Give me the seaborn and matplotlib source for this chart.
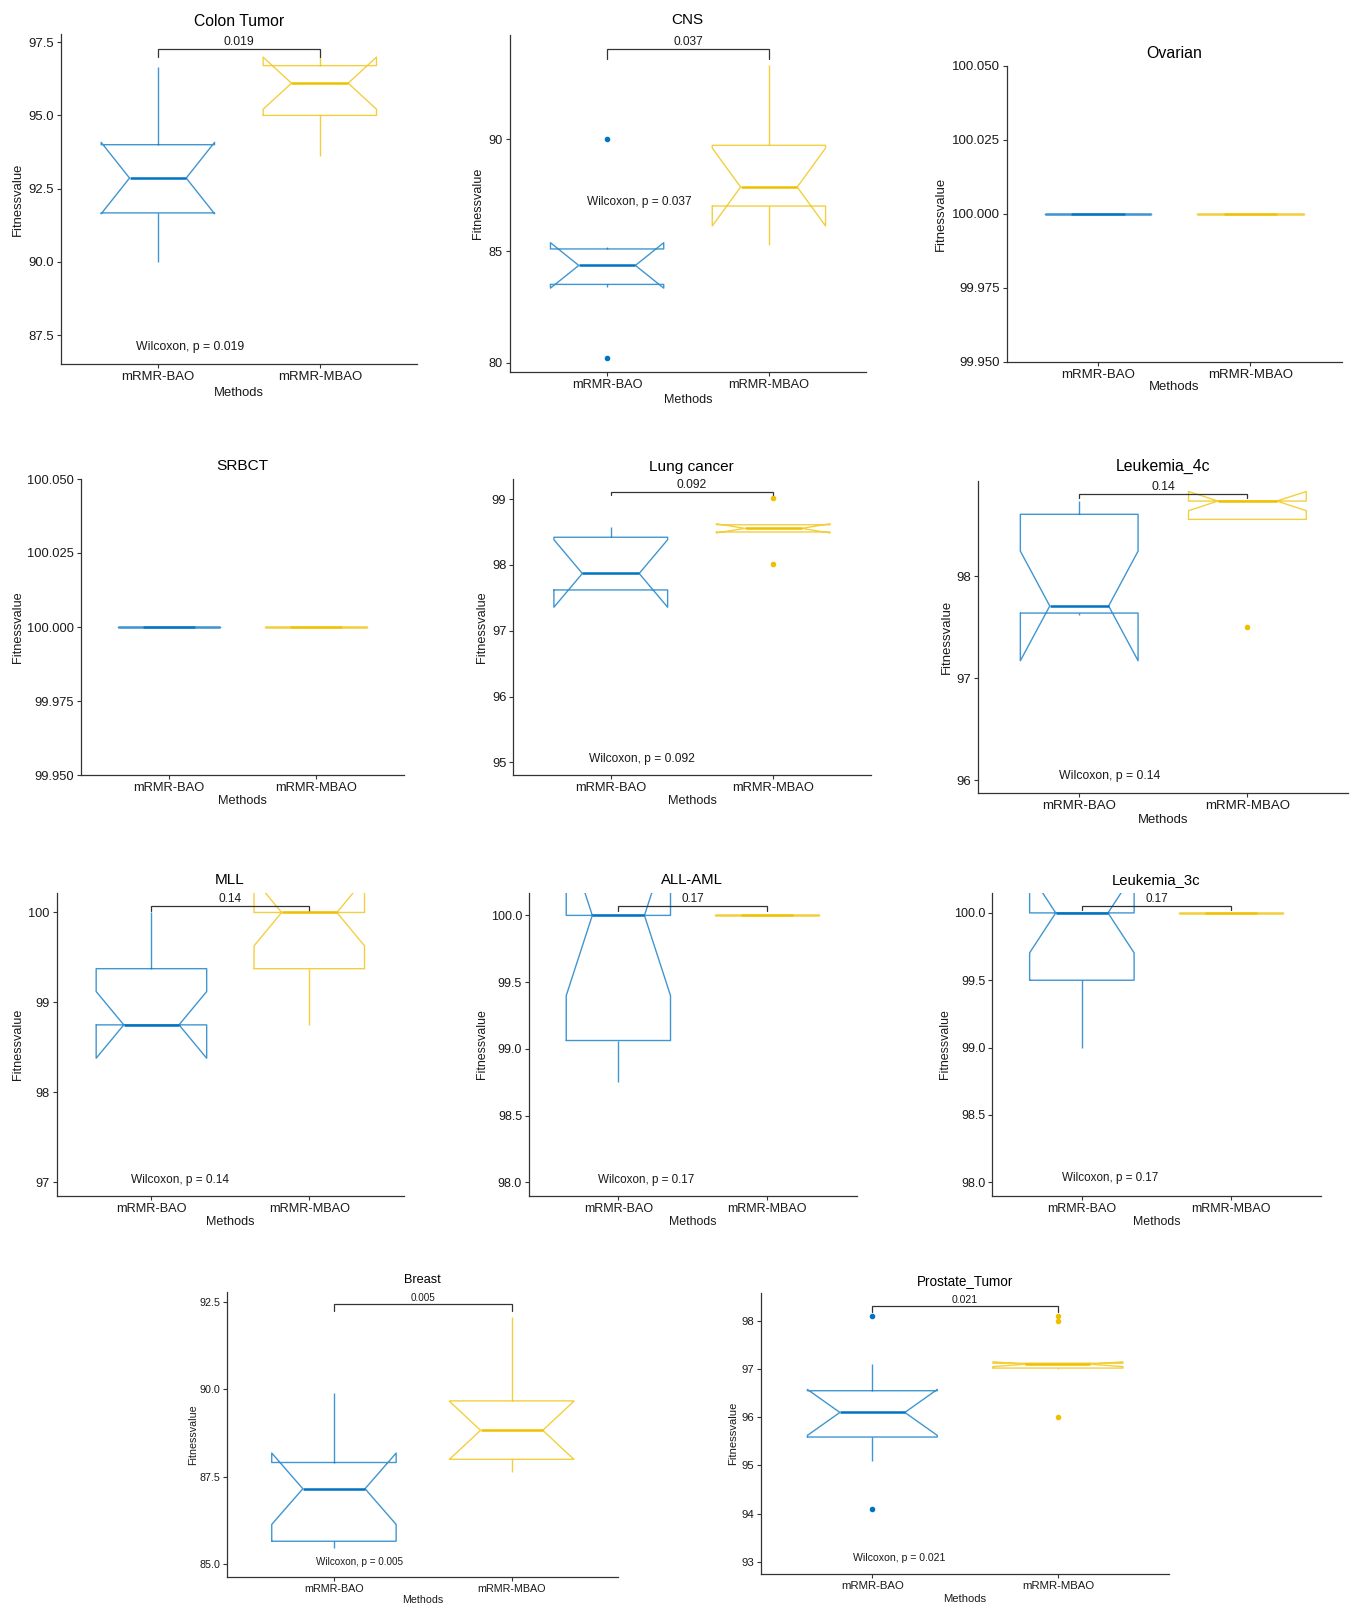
import matplotlib
matplotlib.use("Agg")
import matplotlib.pyplot as plt
import pandas as pd
import seaborn as sns

METHODS = ["mRMR-BAO", "mRMR-MBAO"]
PALETTE = {"mRMR-BAO": "#0073C2", "mRMR-MBAO": "#EFC000"}

# ---- fitness values of each run, per dataset and method ----
colon_bao = [90.0, 91.0, 91.67, 92.2, 92.86, 93.5, 94.0, 95.0, 96.67]
colon_mbao = [93.6, 94.5, 95.0, 95.5, 96.1, 96.4, 96.7, 96.9, 97.0]

cns_bao = [80.2, 83.4, 83.84, 84.88, 85.17, 90.0]
cns_mbao = [85.26, 87.02, 87.02, 88.72, 90.08, 93.33]

ovarian_bao = [100.0, 100.0, 100.0, 100.0, 100.0, 100.0, 100.0, 100.0, 100.0, 100.0]
ovarian_mbao = [100.0, 100.0, 100.0, 100.0, 100.0, 100.0, 100.0, 100.0, 100.0, 100.0]

srbct_bao = [100.0, 100.0, 100.0, 100.0, 100.0, 100.0, 100.0, 100.0, 100.0, 100.0]
srbct_mbao = [100.0, 100.0, 100.0, 100.0, 100.0, 100.0, 100.0, 100.0, 100.0, 100.0]

lung_bao = [97.62, 97.62, 97.62, 98.12, 98.52, 98.57]
lung_mbao = [98.02, 98.5, 98.5, 98.61, 98.61, 99.02]

leuk4c_bao = [97.62, 97.64, 97.64, 97.68, 97.74, 98.60, 98.64, 98.74]
leuk4c_mbao = [97.5, 98.56, 98.56, 98.6, 98.74, 98.74, 98.74, 98.74, 98.74]

mll_bao = [98.75, 98.75, 98.75, 98.75, 98.75, 100.0, 100.0]
mll_mbao = [98.75, 98.75, 100.0, 100.0, 100.0, 100.0, 100.0]

allaml_bao = [98.75, 98.75, 100.0, 100.0, 100.0, 100.0]
allaml_mbao = [100.0, 100.0, 100.0, 100.0, 100.0, 100.0]

leuk3c_bao = [99.0, 99.0, 100.0, 100.0, 100.0, 100.0, 100.0]
leuk3c_mbao = [100.0, 100.0, 100.0, 100.0, 100.0, 100.0, 100.0]

breast_bao = [85.48, 85.66, 85.66, 85.66, 86.5, 87.16, 87.16, 87.5, 87.91, 87.91, 88.8, 89.9]
breast_mbao = [87.63, 87.8, 88.0, 88.0, 88.6, 89.06, 89.67, 89.67, 90.5, 92.07]

prostate_bao = [94.1, 95.1, 95.59, 95.59, 96.0, 96.2, 96.55, 96.55, 97.1, 98.09]
prostate_mbao = [96.0, 97.0, 97.02, 97.02, 97.1, 97.1, 97.12, 97.12, 98.0, 98.1]

# ---- Wilcoxon p-values ----
colon_p = "0.019"
cns_p = "0.037"
lung_p = "0.092"
leuk4c_p = "0.14"
mll_p = "0.14"
allaml_p = "0.17"
leuk3c_p = "0.17"
breast_p = "0.005"
prostate_p = "0.021"

# ---- y tick labels ----
colon_ticks = ["87.5", "90.0", "92.5", "95.0", "97.5"]
cns_ticks = ["80", "85", "90"]
flat_ticks = ["99.950", "99.975", "100.000", "100.025", "100.050"]
lung_ticks = ["95", "96", "97", "98", "99"]
leuk4c_ticks = ["96", "97", "98"]
mll_ticks = ["97", "98", "99", "100"]
half_ticks = ["98.0", "98.5", "99.0", "99.5", "100.0"]
breast_ticks = ["85.0", "87.5", "90.0", "92.5"]
prostate_ticks = ["93", "94", "95", "96", "97", "98"]

W, H = 1353, 1605

# layout: axes box in pixels (left, top, right, bottom), title centre,
# x-label centre y, y-label centre x, bracket (top, tip), wilcoxon label (x, y), text scale
panels = [
    dict(title="Colon Tumor", bao=colon_bao, mbao=colon_mbao, p=colon_p, ticks=colon_ticks,
         ylim=(86.51, 97.78), rect=(60.7, 34, 417, 364), tpos=(239.3, 21), xl=393, yl=18,
         bracket=(97.26, 96.99), wpos=(0.198, 87.09), s=1.01),
    dict(title="CNS", bao=cns_bao, mbao=cns_mbao, p=cns_p, ticks=cns_ticks,
         ylim=(79.6, 94.68), rect=(510, 35, 866, 371.7), tpos=(687.3, 20), xl=400, yl=478.3,
         bracket=(94.04, 93.59), wpos=(0.198, 87.2), s=0.98),
    dict(title="Ovarian", bao=ovarian_bao, mbao=ovarian_mbao, p=None, ticks=flat_ticks,
         ylim=(99.95, 100.05), rect=(1006.7, 66, 1341.7, 361.7), tpos=(1174, 54), xl=386.7, yl=940.7,
         bracket=None, wpos=None, s=1.02),
    dict(title="SRBCT", bao=srbct_bao, mbao=srbct_mbao, p=None, ticks=flat_ticks,
         ylim=(99.95, 100.05), rect=(81, 479, 404, 775), tpos=(242.3, 466), xl=800.7, yl=18.3,
         bracket=None, wpos=None, s=0.99),
    dict(title="Lung cancer", bao=lung_bao, mbao=lung_mbao, p=lung_p, ticks=lung_ticks,
         ylim=(94.81, 99.30), rect=(513.3, 479.3, 870.7, 775), tpos=(691.7, 466.7), xl=800.7, yl=481.7,
         bracket=(99.10, 99.06), wpos=(0.194, 95.05), s=0.99),
    dict(title="Leukemia_4c", bao=leuk4c_bao, mbao=leuk4c_mbao, p=leuk4c_p, ticks=leuk4c_ticks,
         ylim=(95.87, 98.94), rect=(978.3, 480.7, 1348.3, 793.3), tpos=(1163.3, 466.7), xl=820, yl=946.7,
         bracket=(98.81, 98.77), wpos=(0.178, 96.04), s=1.02),
    dict(title="MLL", bao=mll_bao, mbao=mll_mbao, p=mll_p, ticks=mll_ticks,
         ylim=(96.85, 100.22), rect=(56.7, 892.7, 404, 1195.7), tpos=(229.3, 880), xl=1221.7, yl=18.3,
         bracket=(100.07, 100.02), wpos=(0.183, 97.03), s=0.98),
    dict(title="ALL-AML", bao=allaml_bao, mbao=allaml_mbao, p=allaml_p, ticks=half_ticks,
         ylim=(97.90, 100.17), rect=(529, 892.7, 856.7, 1195.7), tpos=(692.3, 880), xl=1221.7, yl=481.7,
         bracket=(100.07, 100.03), wpos=(0.189, 98.02), s=0.96),
    dict(title="Leukemia_3c", bao=leuk3c_bao, mbao=leuk3c_mbao, p=leuk3c_p, ticks=half_ticks,
         ylim=(97.90, 100.15), rect=(992.3, 892.7, 1320.7, 1195.7), tpos=(1156, 880), xl=1221.7, yl=945,
         bracket=(100.05, 100.02), wpos=(0.189, 98.03), s=0.96),
    dict(title="Breast", bao=breast_bao, mbao=breast_mbao, p=breast_p, ticks=breast_ticks,
         ylim=(84.63, 92.79), rect=(227.3, 1291.7, 618.3, 1577.3), tpos=(422.3, 1280), xl=1600, yl=192.7,
         bracket=(92.43, 92.23), wpos=(0.144, 85.07), s=0.82),
    dict(title="Prostate_Tumor", bao=prostate_bao, mbao=prostate_mbao, p=prostate_p, ticks=prostate_ticks,
         ylim=(92.75, 98.57), rect=(761, 1293.3, 1169.3, 1574), tpos=(965, 1280.7), xl=1599.3, yl=733.3,
         bracket=(98.30, 98.18), wpos=(0.144, 93.08), s=0.87),
]

sns.set_theme(style="ticks")
plt.rcParams["font.family"] = ["Liberation Sans", "DejaVu Sans"]
plt.rcParams["axes.linewidth"] = 0.9

fig = plt.figure(figsize=(W / 100, H / 100), dpi=100)
fig.patch.set_facecolor("white")

AX_COLOR = "#333333"
TXT_COLOR = "#1a1a1a"

for pnl in panels:
    L, T, R, B = pnl["rect"]
    ax = fig.add_axes([L / W, 1 - B / H, (R - L) / W, (B - T) / H])
    s = pnl["s"]

    df = pd.DataFrame({
        "Methods": [METHODS[0]] * len(pnl["bao"]) + [METHODS[1]] * len(pnl["mbao"]),
        "Fitnessvalue": list(pnl["bao"]) + list(pnl["mbao"]),
    })
    sns.boxplot(
        data=df, x="Methods", y="Fitnessvalue", hue="Methods", order=METHODS,
        hue_order=METHODS, palette=PALETTE, saturation=1, fill=False, notch=True,
        width=0.7, linewidth=1.0, showcaps=False, fliersize=3.0, legend=False,
        flierprops={"marker": "o"},
        boxprops={"alpha": 0.75}, whiskerprops={"alpha": 0.75},
        medianprops={"linewidth": 1.8},
        ax=ax,
    )
    # filled outlier dots in the group colour
    for ln in ax.lines:
        if ln.get_marker() == "o":
            ln.set_markerfacecolor(ln.get_markeredgecolor())

    ax.set_xlim(-0.6, 1.6)
    ax.set_ylim(*pnl["ylim"])
    ax.set_yticks([float(t) for t in pnl["ticks"]])
    ax.set_yticklabels(pnl["ticks"])
    ax.set_xticks([0, 1])
    ax.set_xticklabels(METHODS)
    sns.despine(ax=ax)
    for sp in ("left", "bottom"):
        ax.spines[sp].set_color(AX_COLOR)
        ax.spines[sp].set_linewidth(0.9)
    ax.tick_params(axis="both", length=3, width=0.8, color=AX_COLOR, pad=2,
                   labelcolor=TXT_COLOR, labelsize=9.4 * s)

    # axis titles
    ax.set_xlabel("Methods", fontsize=9.3 * s, color=TXT_COLOR)
    ax.set_ylabel("Fitnessvalue", fontsize=9.3 * s, color=TXT_COLOR)
    ax.xaxis.set_label_coords(0.5, (B - pnl["xl"]) / (B - T))
    ax.xaxis.label.set_va("center")
    ax.yaxis.set_label_coords((pnl["yl"] - L) / (R - L), 0.5)
    ax.yaxis.label.set_va("center")

    # panel title
    tx, ty = pnl["tpos"]
    ax.set_title(pnl["title"], x=(tx - L) / (R - L), y=(B - ty) / (B - T), pad=0,
                 va="center", ha="center", fontsize=11.2 * s, color="black")

    # comparison bracket with its p-value
    if pnl["bracket"] is not None:
        top, tip = pnl["bracket"]
        ax.plot([0, 0, 1, 1], [tip, top, top, tip], color=AX_COLOR, lw=0.9,
                clip_on=False, solid_joinstyle="miter")
        ax.annotate(pnl["p"], xy=(0.5, top), xytext=(0, 0.8), textcoords="offset points",
                    ha="center", va="bottom", fontsize=8.7 * s, color=TXT_COLOR,
                    annotation_clip=False)
    if pnl["wpos"] is not None:
        wx, wy = pnl["wpos"]
        ax.text(wx, wy, f"Wilcoxon, p = {pnl['p']}", ha="center", va="center",
                fontsize=8.7 * s, color=TXT_COLOR)

fig.savefig("out.png", dpi=100, facecolor="white")
